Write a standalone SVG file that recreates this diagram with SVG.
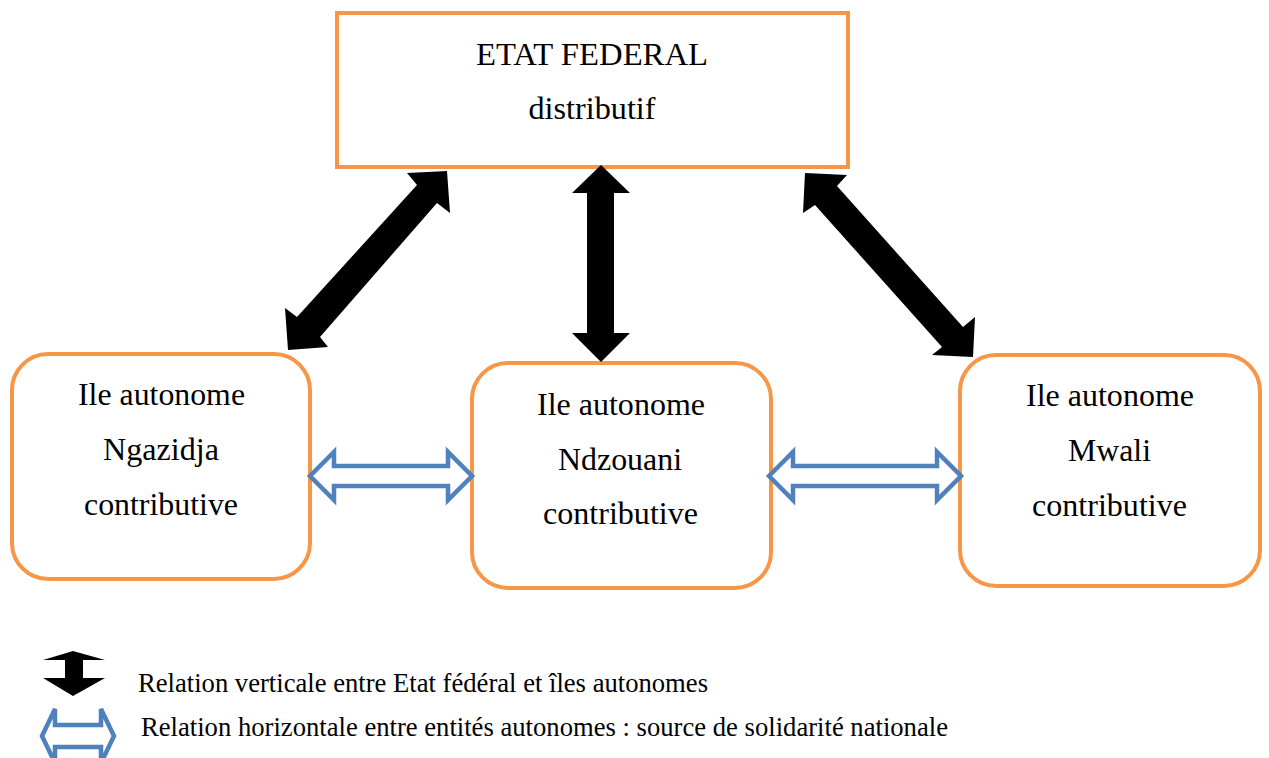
<svg xmlns="http://www.w3.org/2000/svg" width="1269" height="758" viewBox="0 0 1269 758">
  <style>
    .box { fill: #FFFFFF; stroke: #F79646; stroke-width: 4; }
    .t { font-family: 'Liberation Serif', 'Times New Roman', serif; font-size: 32px; fill: #000000; text-anchor: middle; }
    .lg { font-family: 'Liberation Serif', 'Times New Roman', serif; font-size: 26.5px; fill: #000000; }
    .black { fill: #000000; stroke: none; }
    .blue { fill: #FFFFFF; stroke: #4F81BD; stroke-width: 4.5; stroke-linejoin: miter; }
  </style>
  <rect width="1269" height="758" fill="#FFFFFF"/>

  <g id="etat-federal">
    <rect class="box" x="337" y="13" width="511" height="154"/>
    <text class="t" x="592" y="65" textLength="232" lengthAdjust="spacingAndGlyphs">ETAT FEDERAL</text>
    <text class="t" x="592" y="119" textLength="127" lengthAdjust="spacingAndGlyphs">distributif</text>
  </g>

  <g id="ngazidja">
    <rect class="box" x="12" y="354" width="298" height="225" rx="36" ry="36"/>
    <text class="t" x="161.5" y="405" textLength="167" lengthAdjust="spacingAndGlyphs">Ile autonome</text>
    <text class="t" x="161" y="460" textLength="116" lengthAdjust="spacingAndGlyphs">Ngazidja</text>
    <text class="t" x="161" y="515" textLength="154" lengthAdjust="spacingAndGlyphs">contributive</text>
  </g>

  <g id="ndzouani">
    <rect class="box" x="472" y="363" width="299" height="225" rx="36" ry="36"/>
    <text class="t" x="621" y="415" textLength="168" lengthAdjust="spacingAndGlyphs">Ile autonome</text>
    <text class="t" x="620" y="470" textLength="124" lengthAdjust="spacingAndGlyphs">Ndzouani</text>
    <text class="t" x="620.5" y="524" textLength="155" lengthAdjust="spacingAndGlyphs">contributive</text>
  </g>

  <g id="mwali">
    <rect class="box" x="960" y="355" width="300" height="231" rx="36" ry="36"/>
    <text class="t" x="1110" y="406" textLength="168" lengthAdjust="spacingAndGlyphs">Ile autonome</text>
    <text class="t" x="1109.5" y="461" textLength="83" lengthAdjust="spacingAndGlyphs">Mwali</text>
    <text class="t" x="1109.5" y="516" textLength="155" lengthAdjust="spacingAndGlyphs">contributive</text>
  </g>

  <g id="connectors">
    <polygon class="black" points="447,171 450,213 437,203 320,337 328,347 288,350 285,308 297,317 417,185 407,173"/>
    <polygon class="black" points="601,165 630,193 614,193 614,333 630,333 601,362 572,333 587,333 587,193 572,193"/>
    <polygon class="black" points="805,173 847,175 837,186 963,327 975,317 973,357 932,355 942,347 815,205 803,213"/>
    <polygon class="blue" points="310,476 334,452 334,466 448,466 448,452 472,476 448,500 448,486 334,486 334,500"/>
    <polygon class="blue" points="769,476 793,452 793,466 937,466 937,452 961,476 937,500 937,486 793,486 793,500"/>
  </g>

  <g id="legend">
    <polygon class="black" points="73,651 105,660 83,660 83,678 105,678 73,696 43,678 65,678 65,660 43,660"/>
    <text class="lg" x="138" y="692" textLength="570" lengthAdjust="spacingAndGlyphs">Relation verticale entre Etat fédéral et îles autonomes</text>
    <polygon class="blue" points="42,736 55,709 55,725 101,725 101,709 114,736 101,763 101,747 55,747 55,763"/>
    <text class="lg" x="141" y="736" textLength="807" lengthAdjust="spacingAndGlyphs">Relation horizontale entre entités autonomes : source de solidarité nationale</text>
  </g>
</svg>
